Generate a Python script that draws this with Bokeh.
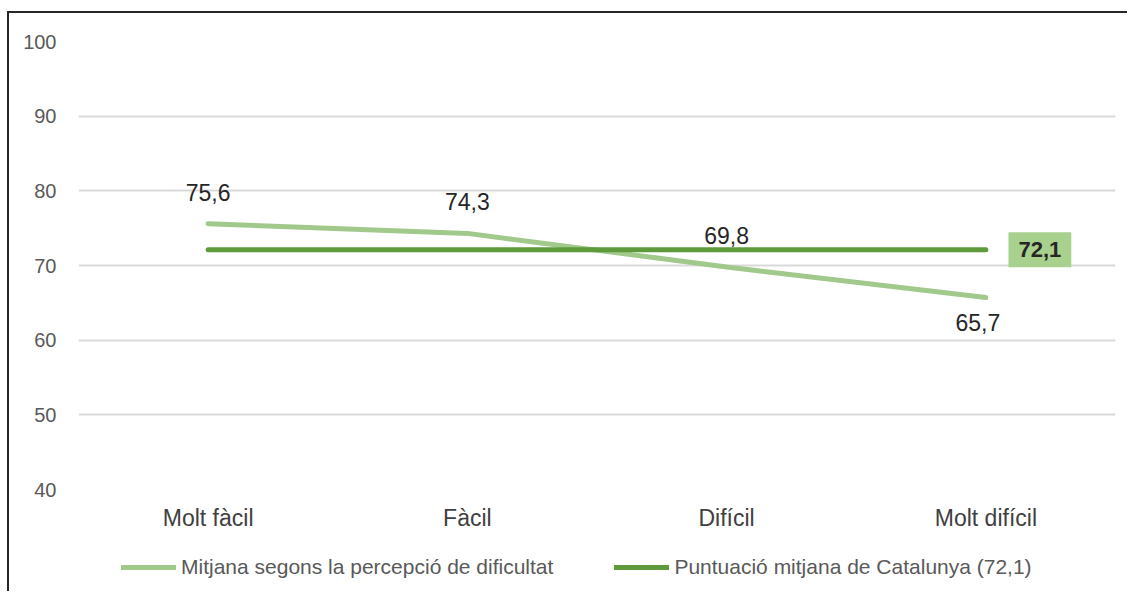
from bokeh.plotting import figure
from bokeh.layouts import column
from bokeh.models import (ColumnDataSource, FactorRange, Range1d, Label, LabelSet,
                          Legend, LegendItem, FixedTicker)
from bokeh.embed import file_html
from bokeh.resources import INLINE
from bokeh.core.properties import value

categories = ["Molt fàcil", "Fàcil", "Difícil", "Molt difícil"]
mitjana = [75.6, 74.3, 69.8, 65.7]
catalunya = [72.1, 72.1, 72.1, 72.1]
mitjana_labels = ["75,6", "74,3", "69,8", "65,7"]
catalunya_label = "72,1"
series_names = ["Mitjana segons la percepció de dificultat",
                "Puntuació mitjana de Catalunya (72,1)"]
y_ticks = [40, 50, 60, 70, 80, 90, 100]

FONT = "Liberation Sans"
LIGHT = "#a0c98b"
DARK = "#5e9a3c"
W = 1118

p = figure(x_range=FactorRange(*categories, range_padding=0), y_range=Range1d(40, 100),
           width=W, height=530, output_backend="svg", toolbar_location=None,
           min_border_left=69, min_border_right=12, min_border_top=28, min_border_bottom=54)
p.outline_line_color = None
p.background_fill_color = "white"

p.xgrid.grid_line_color = None
p.ygrid.grid_line_color = "#d9d9d9"
p.ygrid.grid_line_width = 2
p.yaxis.ticker = FixedTicker(ticks=y_ticks)
for ax in (p.xaxis, p.yaxis):
    ax.axis_line_color = None
    ax.major_tick_line_color = None
    ax.minor_tick_line_color = None
    ax.major_label_text_font = FONT
    ax.major_label_text_color = "#595959"
p.yaxis.major_label_text_font_size = "20px"
p.yaxis.major_label_standoff = 16
p.xaxis.major_label_text_font_size = "23px"
p.xaxis.major_label_text_color = "#404040"
p.xaxis.major_label_standoff = 9

src = ColumnDataSource(dict(x=categories, y=mitjana, c=catalunya, lab=mitjana_labels,
                            dy=[31, 32, 31, -25], dx=[0, 0, 0, -8]))

p.line("x", "y", source=src, line_color=LIGHT, line_width=5, line_cap="round")
p.line("x", "c", source=src, line_color=DARK, line_width=5, line_cap="round")

labels = LabelSet(x="x", y="y", text="lab", source=src, y_offset="dy", x_offset="dx",
                  text_align="center", text_baseline="middle",
                  text_font=value(FONT), text_font_size="23px", text_color="#262626")
p.add_layout(labels)

p.add_layout(Label(x=3.5, y=catalunya[-1], x_offset=54, text=catalunya_label,
                   text_align="center", text_baseline="middle",
                   text_font=FONT, text_font_size="22px", text_font_style="bold",
                   text_color="#262626", background_fill_color="#a9d18e",
                   padding=(10, 10, 10, 10)))

# legend strip (its sample lines sit outside the visible range)
p2 = figure(width=W, height=48, x_range=(0, 1), y_range=(0, 1), output_backend="svg",
            toolbar_location=None, min_border=0)
p2.axis.visible = False
p2.grid.visible = False
p2.outline_line_color = None
l1 = p2.line(x=[5, 6], y=[5, 6], line_color=LIGHT, line_width=5, line_cap="round")
l2 = p2.line(x=[5, 6], y=[5, 6], line_color=DARK, line_width=5, line_cap="round")
legend = Legend(items=[LegendItem(label=series_names[0], renderers=[l1]),
                       LegendItem(label=series_names[1], renderers=[l2])],
                orientation="horizontal", location=(43, 12),
                label_text_font=FONT, label_text_font_size="21px", label_text_color="#595959",
                glyph_width=55, label_standoff=5, spacing=61,
                padding=0, margin=0, border_line_color=None, background_fill_alpha=0)
p2.add_layout(legend, "center")

layout = column(p, p2, spacing=0)
layout.margin = (11, 0, 0, 7)
layout.styles = {"border-left": "2px solid #262626", "border-top": "2px solid #262626"}

open("out.html", "w").write(file_html(layout, INLINE))
